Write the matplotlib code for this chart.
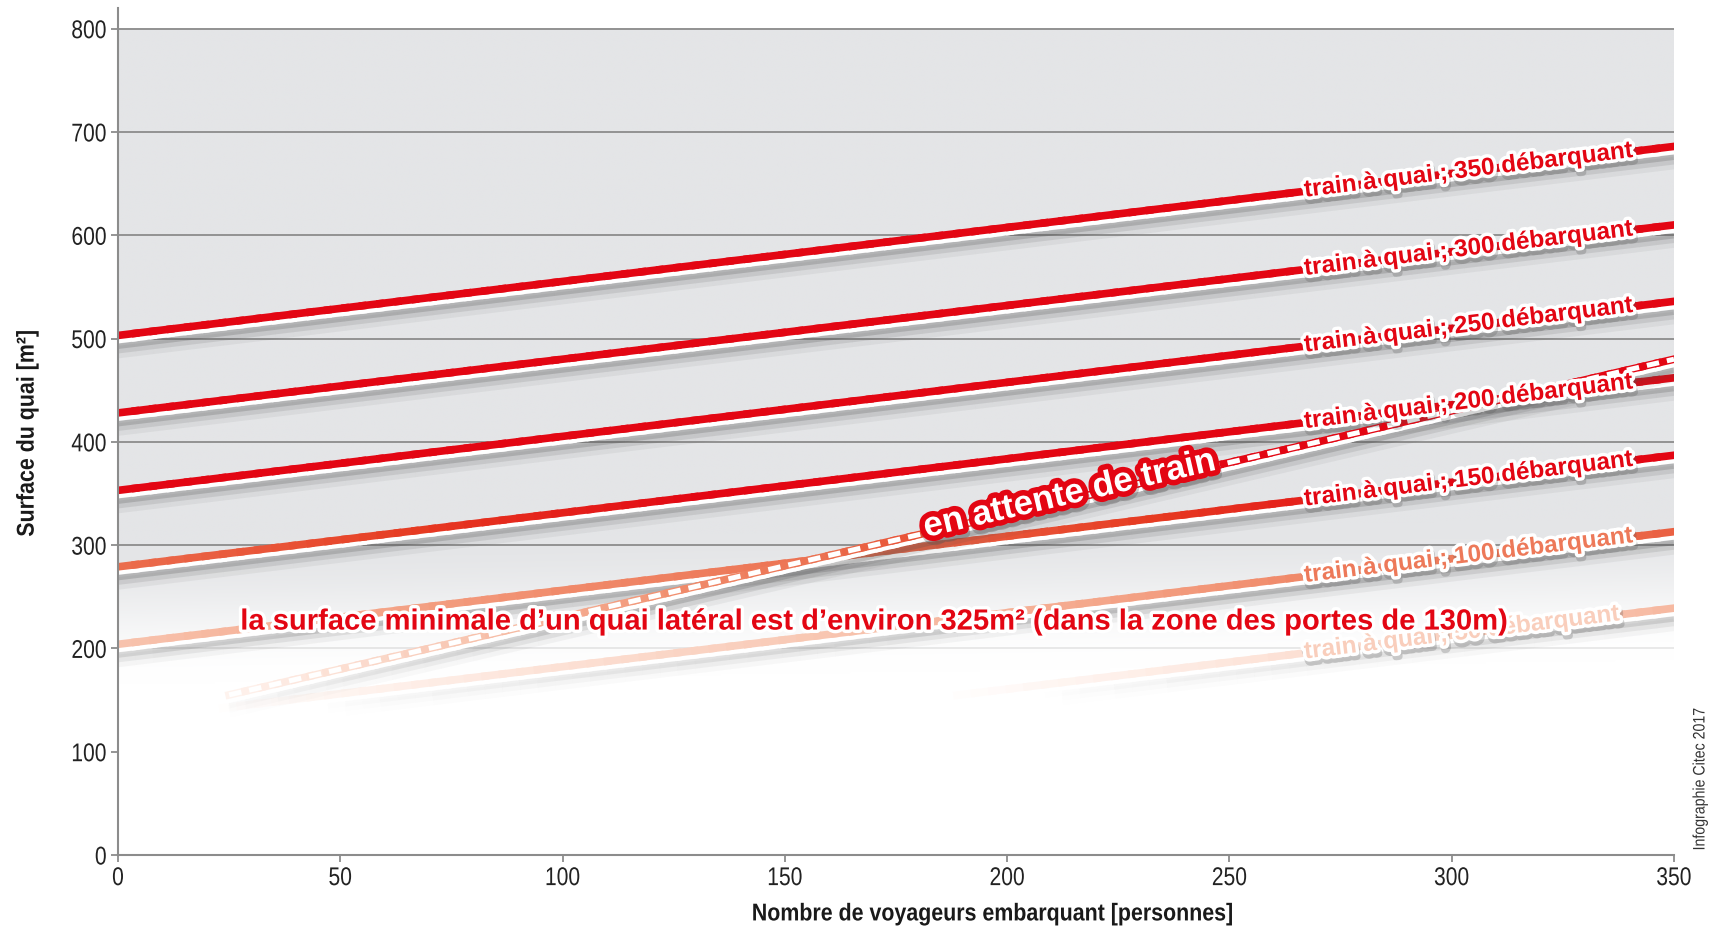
import numpy as np
import matplotlib.pyplot as plt
import matplotlib.patheffects as pe
from matplotlib.collections import LineCollection
from matplotlib.colors import LinearSegmentedColormap, to_rgb
from matplotlib.transforms import offset_copy, Affine2D

# Données (surface du quai en m²)
x_bornes = [0, 350]
debarquants = [350, 300, 250, 200, 150, 100, 50]
surface_debut = [503, 428, 353, 279, 204, 130, 56]     # à 0 voyageur embarquant
surface_fin = [686, 610, 536, 462, 387, 313, 239]      # à 350 voyageurs embarquant

attente_x = [25, 350]
attente_y = [155, 480]

yticks = [0, 100, 200, 300, 400, 500, 600, 700, 800]
xticks = [0, 50, 100, 150, 200, 250, 300, 350]

label_x = 267
note = "la surface minimale d\u2019un quai latéral est d\u2019environ 325m² (dans la zone des portes de 130m)"

police = ['Liberation Sans', 'DejaVu Sans']


class Condense(pe.AbstractPathEffect):
    """écrase le texte horizontalement (police étroite)"""

    def __init__(self, sx=0.88, ancre='center'):
        super().__init__()
        self.sx = sx
        self.ancre = ancre

    def draw_path(self, renderer, gc, tpath, affine, rgbFace=None):
        ext = tpath.get_extents()
        cx = {'left': ext.x0, 'center': (ext.x0 + ext.x1) / 2, 'right': ext.x1}[self.ancre]
        pre = Affine2D().translate(-cx, 0).scale(self.sx, 1).translate(cx, 0)
        renderer.draw_path(gc, tpath, pre + affine, rgbFace)


# dégradé rouge -> orange -> pêche -> blanc (en bas du graphique)
stops = [(140, '#ffffff'), (170, '#fde6dc'), (200, '#f8c8b4'), (225, '#f5ad92'),
         (250, '#f08a6a'), (280, '#eb6e4e'), (310, '#e63b22'), (340, '#e30613')]
vmin, vmax = stops[0][0], stops[-1][0]
cmap = LinearSegmentedColormap.from_list(
    'fade', [((v - vmin) / (vmax - vmin), c) for v, c in stops])


def coord_fade(x, y):
    return np.asarray(y) - 0.07 * np.asarray(x)


def couleur(x, y):
    v = np.clip((coord_fade(x, y) - vmin) / (vmax - vmin), 0, 1)
    return cmap(v)


fig = plt.figure(figsize=(17.12, 9.30), dpi=100)
ax = fig.add_axes([118 / 1712, 1 - 855 / 930, 1556 / 1712, 847 / 930])
ax.set_xlim(0, 350)
ax.set_ylim(0, 820)

# fond gris qui s'estompe vers le bas
gx, gy = np.meshgrid(np.linspace(0, 350, 120), np.linspace(0, 800, 400))
s = np.clip((coord_fade(gx, gy) - 165) / 135, 0, 1)
s = s * s * (3 - 2 * s)
gris = np.array(to_rgb('#e4e5e7'))
fond = 1 - s[..., None] * (1 - gris)
ax.imshow(fond, extent=[0, 350, 0, 800], origin='lower', aspect='auto', zorder=0)

for yv in yticks[1:]:
    a = float(np.clip((yv - 175) / 125, 0, 1))
    if a > 0:
        ax.plot([0, 350], [yv, yv], color='#8c8c8c', lw=1.3, alpha=a, zorder=0.5)


def trace(xa, ya, z, n=90):
    t = np.linspace(0, 1, n)
    xs = xa[0] + (xa[1] - xa[0]) * t
    ys = ya[0] + (ya[1] - ya[0]) * t
    pts = np.column_stack([xs, ys])
    segs = np.stack([pts[:-1], pts[1:]], axis=1)
    xm = (xs[:-1] + xs[1:]) / 2
    ym = (ys[:-1] + ys[1:]) / 2
    f = np.clip((coord_fade(xm, ym) - 150) / 90, 0, 1)
    # ombre portée
    for off, lw, a in [(-12, 9, 0.07), (-9.5, 7, 0.13), (-7, 5.5, 0.22)]:
        c = np.zeros((len(segs), 4))
        c[:, :3] = 0.3
        c[:, 3] = a * f
        ax.add_collection(LineCollection(
            segs, colors=c, linewidths=lw, capstyle='butt', zorder=z,
            transform=offset_copy(ax.transData, fig=fig, y=off, units='points')))
    # liseré blanc
    ax.add_collection(LineCollection(
        segs, colors='white', linewidths=5.5, capstyle='projecting', zorder=z + 0.1,
        transform=offset_copy(ax.transData, fig=fig, y=-3, units='points')))
    ax.add_collection(LineCollection(
        segs, colors=couleur(xm, ym), linewidths=5.5, capstyle='projecting', zorder=z + 0.2))


for i, (d, y0, y1) in enumerate(zip(debarquants, surface_debut, surface_fin)):
    trace(x_bornes, [y0, y1], 2 + i * 0.01)

trace(attente_x, attente_y, 2.5)
ax.plot(attente_x, attente_y, color='white', lw=3.6, dashes=(2.5, 1.6),
        solid_capstyle='butt', zorder=2.8)

# étiquettes des droites
ombre_txt = [pe.SimpleLineShadow(offset=(1, -3), shadow_color='#555555', alpha=0.25, linewidth=5),
             pe.Stroke(linewidth=5, foreground='white'), pe.Normal()]
for d, y0, y1 in zip(debarquants, surface_debut, surface_fin):
    pente = (y1 - y0) / (x_bornes[1] - x_bornes[0])
    yl = y0 + pente * label_x
    ang = np.degrees(np.arctan(pente))
    col = couleur(label_x + 38, yl + pente * 38)
    ax.text(label_x, yl, f"train à quai ; {d} débarquant", fontsize=17.5,
            fontweight='bold', family=police, color=col, rotation=ang,
            rotation_mode='anchor', transform_rotates_text=True,
            ha='left', va='baseline', zorder=4, path_effects=ombre_txt,
            transform=offset_copy(ax.transData, fig=fig, y=-4, units='points'))

pente_a = (attente_y[1] - attente_y[0]) / (attente_x[1] - attente_x[0])
xa_txt = 214
ax.text(xa_txt, attente_y[0] + pente_a * (xa_txt - attente_x[0]), "en attente de train",
        fontsize=25, fontweight='bold', family=police, color='white',
        rotation=np.degrees(np.arctan(pente_a)), rotation_mode='anchor',
        transform_rotates_text=True, ha='center', va='center', zorder=4.5,
        path_effects=[pe.SimpleLineShadow(offset=(1, -3), shadow_color='#555555', alpha=0.3, linewidth=8),
                      pe.Stroke(linewidth=8, foreground='#e30613'), pe.Normal()],
        transform=offset_copy(ax.transData, fig=fig, y=4, units='points'))

ax.text(170, 226, note, fontsize=21, fontweight='bold', family=police, color='#e30613',
        ha='center', va='center', zorder=6,
        path_effects=[pe.Stroke(linewidth=5, foreground='white'), pe.Normal()])

# axes
for sp in ['top', 'right']:
    ax.spines[sp].set_visible(False)
for sp in ['left', 'bottom']:
    ax.spines[sp].set_color('#8c8c8c')
    ax.spines[sp].set_linewidth(1.5)
    ax.spines[sp].set_zorder(7)
ax.set_xticks(xticks)
ax.set_yticks(yticks)
ax.tick_params(direction='out', length=5, width=1.3, color='#8c8c8c',
               labelsize=18.5, labelcolor='#222222', pad=3)
for lab in ax.get_yticklabels():
    lab.set_family(police)
    lab.set_path_effects([Condense(0.82, 'right')])
for lab in ax.get_xticklabels():
    lab.set_family(police)
    lab.set_path_effects([Condense(0.82, 'center')])

ax.set_xlabel("Nombre de voyageurs embarquant [personnes]", fontsize=17.5,
              fontweight='bold', family=police, color='#1a1a1a')
ax.set_ylabel("Surface du quai [m²]", fontsize=17.5, fontweight='bold',
              family=police, color='#1a1a1a')
ax.xaxis.label.set_path_effects([Condense(0.88, 'center')])
ax.yaxis.label.set_path_effects([Condense(0.88, 'center')])
ax.xaxis.set_label_coords(0.562, -0.056)
ax.yaxis.set_label_coords(-0.051, 0.498)

fig.text(1700 / 1712, 1 - 779 / 930, "Infographie Citec 2017", rotation=90,
         fontsize=12, family=police, color='#333333', ha='center', va='center',
         path_effects=[Condense(0.85, 'center')])

fig.savefig('out.png', dpi=100)
